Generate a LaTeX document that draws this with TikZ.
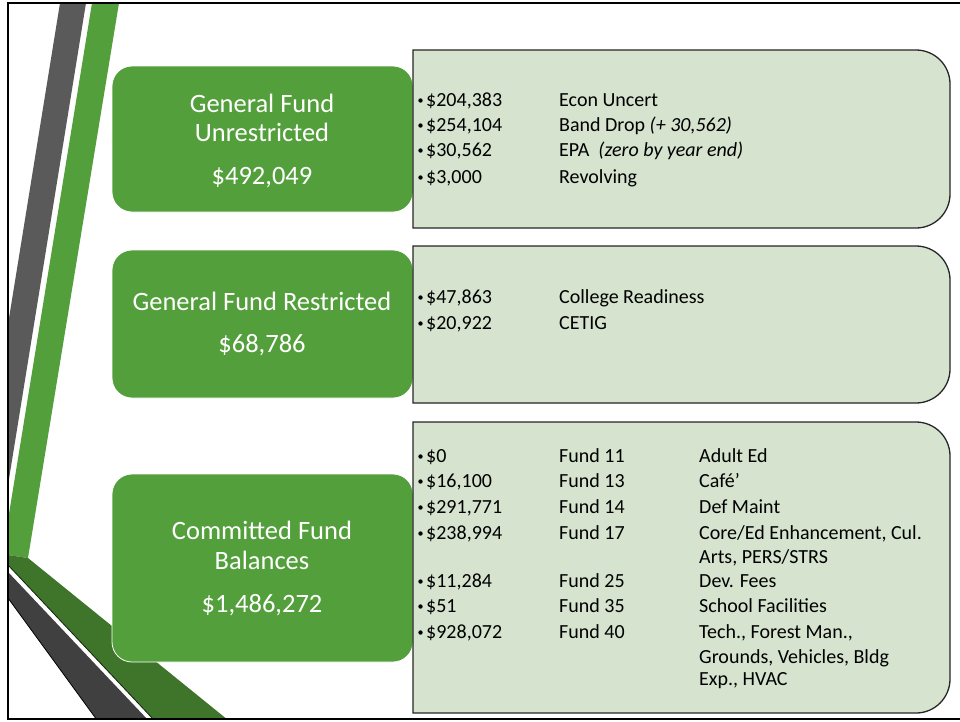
\documentclass[tikz,border=0pt]{standalone}
\usepackage{fontspec}
\setmainfont{Carlito}
\definecolor{boxgreen}{HTML}{539F3B}
\definecolor{darkgreen}{HTML}{3F752B}
\definecolor{stripegray}{HTML}{5A5A5A}
\definecolor{bandgray}{HTML}{404040}
\definecolor{panelfill}{HTML}{D5E3CF}
\begin{document}
\begin{tikzpicture}[x=1pt,y=-1pt,
  fundbox/.style={fill=boxgreen,draw=white,line width=0.8pt,rounded corners=20pt},
  panel/.style={fill=panelfill,draw=black!85,line width=1.3pt},
  headtext/.style={text=white,font=\fontsize{26.5}{29}\selectfont,anchor=base,inner sep=0pt},
  itemtext/.style={font=\fontsize{20}{23}\selectfont,anchor=base west,inner sep=0pt},
  dot/.style={fill=black,circle,inner sep=0pt,minimum size=4.4pt}]
\useasboundingbox (0,0) rectangle (960,721);

% decorative stripes, kept inside the frame
\begin{scope}
  \clip (8,3) rectangle (960,719);
  \fill[stripegray] (60,3) -- (86,3) -- (-30,720) -- (-56,720) -- cycle;
  \fill[boxgreen] (92,3) -- (119,3) -- (28,558) -- (8,555) -- (8,520) -- cycle;
  \fill[darkgreen] (8,555) -- (28,558) -- (228,720) -- (154,720) -- (8,565) -- cycle;
  \draw[black!70!darkgreen,line width=0.8pt] (8,565) -- (154,720);
  \fill[bandgray] (8,572) -- (148,720) -- (97,720) -- (8,598) -- cycle;
  \draw[black,line width=0.8pt] (8,598) -- (97,720);
\end{scope}

% frame
\draw[black,line width=2pt] (961,3) -- (8,3) -- (8,719) -- (961,719);

% green fund boxes
\path[fundbox] (112,66) rectangle (413,212);
\path[fundbox] (112,250) rectangle (413,398);
\path[fundbox] (112,474) rectangle (413,662);

% detail panels: square on the left, rounded on the right
\def\panelpath#1#2{%
  \draw[panel] (413,#1) -- (916,#1)
    arc[start angle=-90,end angle=0,radius=34] -- (950,#2-34)
    arc[start angle=0,end angle=90,radius=34] -- (413,#2) -- cycle;}
\panelpath{50}{228}
\panelpath{246}{403}
\panelpath{422}{713}

% headings
\node[headtext] (g1a) at (262,112.5) {General Fund};
\node[headtext] (g1b) at (262,141) {Unrestricted};
\node[headtext] (g1c) at (262,184.5) {\$492,049};
\node[headtext] (g2a) at (262,310.5) {General Fund Restricted};
\node[headtext] (g2b) at (262,352) {\$68,786};
\node[headtext] (g3a) at (262,539.5) {Committed Fund};
\node[headtext] (g3b) at (262,569.5) {Balances};
\node[headtext] (g3c) at (262,612) {\$1,486,272};

% panel 1
\foreach \y/\amt/\what [count=\i] in {
  106.5/{\$204,383}/{Econ Uncert},
  131.5/{\$254,104}/{Band Drop \textit{(+ 30,562)}},
  156.5/{\$30,562}/{EPA\ \ \textit{(zero by year end)}},
  183.5/{\$3,000}/{Revolving}}{
  \node[dot] (p1b\i) at (420.5,\y-6) {};
  \node[itemtext] (p1a\i) at (426,\y) {\amt};
  \node[itemtext] (p1w\i) at (559,\y) {\what};
}

% panel 2
\foreach \y/\amt/\what [count=\i] in {
  303.5/{\$47,863}/{College Readiness},
  329.5/{\$20,922}/{CETIG}}{
  \node[dot] (p2b\i) at (420.5,\y-6) {};
  \node[itemtext] (p2a\i) at (426,\y) {\amt};
  \node[itemtext] (p2w\i) at (559,\y) {\what};
}

% panel 3
\foreach \y/\amt/\fund/\what [count=\i] in {
  462.5/{\$0}/{Fund 11}/{Adult Ed},
  487.5/{\$16,100}/{Fund 13}/{Café’},
  513.5/{\$291,771}/{Fund 14}/{Def Maint},
  539.5/{\$238,994}/{Fund 17}/{Core/Ed Enhancement, Cul.},
  587.5/{\$11,284}/{Fund 25}/{Dev. Fees},
  612.5/{\$51}/{Fund 35}/{School Facilities},
  638.5/{\$928,072}/{Fund 40}/{Tech., Forest Man.,}}{
  \node[dot] (p3b\i) at (420.5,\y-6) {};
  \node[itemtext] (p3a\i) at (426,\y) {\amt};
  \node[itemtext] (p3f\i) at (559,\y) {\fund};
  \node[itemtext] (p3w\i) at (699,\y) {\what};
}
\node[itemtext] (p3w4b) at (699,563.5) {Arts, PERS/STRS};
\node[itemtext] (p3w7b) at (699,663.5) {Grounds, Vehicles, Bldg};
\node[itemtext] (p3w7c) at (699,685.5) {Exp., HVAC};
\end{tikzpicture}
\end{document}
